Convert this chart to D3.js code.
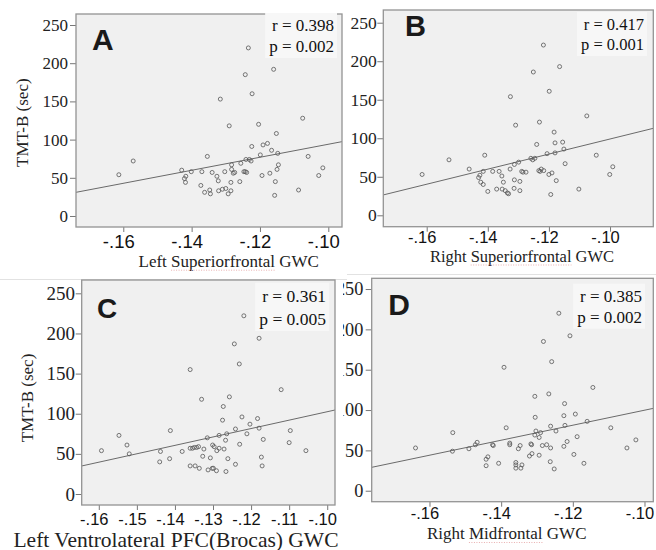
<!DOCTYPE html>
<html>
<head>
<meta charset="utf-8">
<script src="https://cdnjs.cloudflare.com/ajax/libs/d3/7.8.5/d3.min.js"></script>
<style>
body { margin: 0; background: #fff; }
</style>
</head>
<body>
<div id="chart"></div>
<script>
// chart values
var yTicks = [0, 50, 100, 150, 200, 250];
var xTicksWide = [-0.16, -0.14, -0.12, -0.10];
var xTicksFine = [-0.16, -0.15, -0.14, -0.13, -0.12, -0.11, -0.10];
var panelLetters = ['A', 'B', 'C', 'D'];
var xTitles = ['Left Superiorfrontal GWC', 'Right Superiorfrontal GWC', 'Left Ventrolateral PFC(Brocas) GWC', 'Right Midfrontal GWC'];
var yTitle = 'TMT-B (sec)';
var rTexts = ['r = 0.398', 'r = 0.417', 'r = 0.361', 'r = 0.385'];
var pTexts = ['p = 0.002', 'p = 0.001', 'p = 0.005', 'p = 0.002'];
var fitIntercepts = [179.1, 196.9, 207.3, 192.8];
var fitSlopes = [852, 978.5, 1048, 930];

var aX = [-.1613, -.1571, -.1234, -.1243, -.1160, -.1223, -.1316, -.1290, -.1204, -.1075, -.1152, -.1224, -.1191, -.1178, -.1166, -.1199, -.1148, -.1354, -.1059, -.1241,
	-.1231, -.1226, -.1256, -.1283, -.1146, -.1283, -.1150, -.1016, -.1028, -.1429, -.1401, -.1370, -.1340, -.1303, -.1278, -.1274, -.1243, -.1247, -.1239, -.1194,
	-.1171, -.1155, -.1157, -.1087, -.1417, -.1421, -.1418, -.1326, -.1322, -.1285, -.1259, -.1373, -.1362, -.1347, -.1345, -.1321, -.1310, -.1300, -.1293, -.1285];
var aY = [54, 72, 220, 185, 192, 160, 153, 118, 120, 128, 108, 91, 93, 95, 86, 80, 82, 78, 78, 74,
	74, 72, 69, 67, 67, 61, 61, 63, 53, 60, 58, 58, 57, 58, 56, 57, 58, 58, 57, 53,
	56, 45, 27, 34, 52, 49, 44, 52, 46, 44, 45, 40, 31, 34, 29, 33, 35, 36, 29, 33];

var bX = [-.1615, -.1527, -.1218, -.1251, -.1165, -.1199, -.1326, -.1309, -.1231, -.1076, -.1183, -.1240, -.1180, -.1155, -.1151, -.1206, -.1180, -.1045, -.1410, -.1259,
	-.1246, -.1253, -.1299, -.1313, -.1147, -.1461, -.1415, -.1384, -.1363, -.1327, -.1289, -.1285, -.1275, -.1233, -.1225, -.1217, -.1229, -.1200, -.1190, -.0991,
	-.1001, -.1426, -.1430, -.1354, -.1423, -.1415, -.1349, -.1313, -.1295, -.1176, -.1400, -.1371, -.1353, -.1343, -.1336, -.1332, -.1314, -.1295, -.1194, -.1102];
var bY = [53, 72, 221, 186, 193, 161, 154, 117, 121, 129, 108, 92, 94, 95, 86, 80, 81, 78, 78, 74,
	74, 72, 69, 66, 67, 60, 57, 57, 57, 60, 57, 56, 56, 58, 60, 58, 57, 53, 55, 63,
	53, 52, 49, 51, 43, 40, 43, 46, 44, 45, 31, 34, 34, 32, 29, 28, 35, 32, 27, 34];

var cX = [-.1593, -.1547, -.1526, -.1520, -.1438, -.1440, -.1412, -.1414, -.1381, -.1360, -.1330, -.1219, -.1244, -.1179, -.1231, -.1121, -.1257, -.1273, -.1097, -.1100,
	-.1056, -.1224, -.1183, -.1203, -.1275, -.1179, -.1241, -.1211, -.1264, -.1284, -.1315, -.1168, -.1267, -.1230, -.1360, -.1354, -.1349, -.1343, -.1338, -.1324,
	-.1301, -.1297, -.1284, -.1290, -.1271, -.1327, -.1307, -.1261, -.1173, -.1171, -.1241, -.1360, -.1347, -.1336, -.1313, -.1302, -.1299, -.1291, -.1266];
var cY = [54, 73, 61, 50, 53, 40, 79, 44, 53, 155, 118, 222, 187, 194, 162, 130, 121, 109, 79, 64,
	54, 96, 94, 87, 92, 82, 81, 75, 75, 73, 70, 68, 67, 62, 57, 57, 58, 58, 59, 56,
	61, 59, 57, 54, 56, 47, 45, 44, 46, 35, 37, 35, 35, 32, 30, 32, 32, 29, 28];

var dX = [-.1639, -.1535, -.1392, -.1239, -.1282, -.1208, -.1259, -.1144, -.1306, -.1267, -.1223, -.1094, -.1049, -.1024, -.1225, -.1193, -.1305, -.1160, -.1386, -.1262,
	-.1222, -.1303, -.1290, -.1306, -.1294, -.1247, -.1188, -.1216, -.1225, -.1273, -.1285, -.1262, -.1317, -.1315, -.1347, -.1352, -.1376, -.1376, -.1424, -.1422,
	-.1467, -.1472, -.1490, -.1536, -.1321, -.1314, -.1294, -.1197, -.1437, -.1442, -.1442, -.1407, -.1359, -.1359, -.1359, -.1342, -.1345, -.1263, -.1252, -.1169];
var dY = [53, 72, 153, 220, 185, 192, 160, 128, 117, 120, 108, 78, 53, 63, 93, 95, 91, 86, 78, 80,
	81, 74, 72, 69, 66, 74, 67, 61, 55, 57, 56, 53, 58, 57, 56, 52, 59, 57, 57, 56,
	60, 57, 52, 49, 43, 46, 44, 45, 42, 39, 31, 34, 35, 32, 28, 32, 28, 36, 27, 34];

var xData = [aX, bX, cX, dX];
var yData = [aY, bY, cY, dY];

// layout of the four panels (the source is four pasted screenshots of different scale)
var panels = [
	{ left: 76, right: 342, top: 14, bottom: 227, xDom: [-0.17384, -0.09599], yDom: [-14.4, 264.4], ticks: xTicksWide,
		letter: [92, 50, 30], stat: [334, 31, 52, 17], yLab: [68, 17], yTit: [28, 122.7], xLab: [248, 18.5], xTit: [228.7, 266.7, 17] },
	{ left: 383.3, right: 653.3, top: 10, bottom: 226.7, xDom: [-0.1742, -0.08584], yDom: [-14.8, 266.5], ticks: xTicksWide,
		letter: [405, 36, 29], stat: [644, 30, 50, 16.5], yLab: [376.7, 17.5], yTit: null, xLab: [243, 16.5], xTit: [522, 261.5, 16.5] },
	{ left: 81.7, right: 335, top: 280, bottom: 505, xDom: [-0.16449, -0.09796], yDom: [-13.7, 266.6], ticks: xTicksFine,
		letter: [97, 318.3, 28], stat: [326, 301.7, 325, 17.5], yLab: [75, 19], yTit: [33, 398], xLab: [524.5, 16.5], xTit: [176, 547, 21.5] },
	{ left: 371.7, right: 653.3, top: 278.3, bottom: 501.7, xDom: [-0.17613, -0.09754], yDom: [-13.6, 263.3], ticks: xTicksWide,
		letter: [388.3, 315, 30], stat: [642, 301.7, 322.7, 17], yLab: [363.3, 18.3], yTit: null, xLab: [519.5, 16.5], xTit: [506.7, 539, 17], clipX: 343 }
];

var serif = "'Liberation Serif', 'Times New Roman', serif";
var sans = "'Liberation Sans', Arial, sans-serif";

var svg = d3.select('#chart')
	.append('svg')
	.attr('width', 656)
	.attr('height', 550);

svg.append('rect').attr('width', 656).attr('height', 550).attr('fill', '#fff');

// faint seams between the pasted screenshots
svg.append('line').attr('x1', 0).attr('x2', 347).attr('y1', 279.5).attr('y2', 279.5).attr('stroke', '#e2e2e2');
svg.append('line').attr('x1', 347).attr('x2', 656).attr('y1', 274.5).attr('y2', 274.5).attr('stroke', '#e2e2e2');

var defs = svg.append('defs');

function fmtX(v) {
	return '-.' + d3.format('02d')(Math.round(Math.abs(v) * 100));
}

panels.forEach(function(p, i) {
	var g = svg.append('g');
	if (p.clipX) {
		defs.append('clipPath').attr('id', 'clip' + i)
			.append('rect').attr('x', p.clipX).attr('y', 275).attr('width', 656 - p.clipX).attr('height', 275);
		g.attr('clip-path', 'url(#clip' + i + ')');
	}

	var x = d3.scaleLinear().domain(p.xDom).range([p.left, p.right]);
	var y = d3.scaleLinear().domain(p.yDom).range([p.bottom, p.top]);

	// plot area
	g.append('rect')
		.attr('x', p.left).attr('y', p.top)
		.attr('width', p.right - p.left).attr('height', p.bottom - p.top)
		.attr('fill', '#f0f0f0');

	defs.append('clipPath').attr('id', 'plot' + i)
		.append('rect').attr('x', p.left).attr('y', p.top)
		.attr('width', p.right - p.left).attr('height', p.bottom - p.top);

	// y axis
	var yAxis = g.append('g')
		.attr('transform', 'translate(' + p.left + ',0)')
		.call(d3.axisLeft(y).tickValues(yTicks).tickSize(6).tickPadding(2).tickFormat(d3.format('d')));
	yAxis.select('.domain').remove();
	yAxis.selectAll('line').attr('stroke', '#777');
	yAxis.selectAll('text')
		.attr('x', p.yLab[0] - p.left)
		.attr('fill', '#222')
		.style('font-family', serif)
		.style('font-size', p.yLab[1] + 'px');

	// x axis
	var xAxis = g.append('g')
		.attr('transform', 'translate(0,' + p.bottom + ')')
		.call(d3.axisBottom(x).tickValues(p.ticks).tickSize(5).tickFormat(fmtX));
	xAxis.select('.domain').remove();
	xAxis.selectAll('line').attr('stroke', '#777');
	xAxis.selectAll('text')
		.attr('y', p.xLab[0] - p.bottom)
		.attr('dy', 0)
		.attr('dx', -5)
		.attr('fill', '#111')
		.style('font-family', sans)
		.style('font-size', p.xLab[1] + 'px');

	// fit line
	var line = d3.line().x(function(d) { return x(d); }).y(function(d) { return y(fitIntercepts[i] + fitSlopes[i] * d); });
	g.append('path')
		.attr('clip-path', 'url(#plot' + i + ')')
		.attr('d', line(p.xDom))
		.attr('fill', 'none')
		.attr('stroke', '#6a6a6a')
		.attr('stroke-width', 1);

	// points
	g.append('g').selectAll('circle')
		.data(xData[i].map(function(v, k) { return [v, yData[i][k]]; }))
		.enter().append('circle')
		.attr('cx', function(d) { return x(d[0]); })
		.attr('cy', function(d) { return y(d[1]); })
		.attr('r', 2)
		.attr('fill', 'none')
		.attr('stroke', '#555')
		.attr('stroke-width', 0.8);

	// frame
	g.append('rect')
		.attr('x', p.left).attr('y', p.top)
		.attr('width', p.right - p.left).attr('height', p.bottom - p.top)
		.attr('fill', 'none')
		.attr('stroke', '#939393')
		.attr('stroke-width', 1.3);

	// r and p box
	var stat = g.append('g');
	var box = stat.append('rect').attr('fill', '#f7f7f7');
	stat.append('text')
		.attr('x', p.stat[0]).attr('y', p.stat[1])
		.attr('text-anchor', 'end')
		.style('font-family', serif).style('font-size', p.stat[3] + 'px')
		.attr('fill', '#111')
		.text(rTexts[i]);
	stat.append('text')
		.attr('x', p.stat[0]).attr('y', p.stat[2])
		.attr('text-anchor', 'end')
		.style('font-family', serif).style('font-size', p.stat[3] + 'px')
		.attr('fill', '#111')
		.text(pTexts[i]);
	var bb = stat.node().getBBox();
	box.attr('x', bb.x - 4).attr('y', bb.y - 3).attr('width', bb.width + 7).attr('height', bb.height + 5);

	// panel letter
	g.append('text')
		.attr('x', p.letter[0]).attr('y', p.letter[1])
		.style('font-family', sans).style('font-weight', 'bold').style('font-size', p.letter[2] + 'px')
		.attr('fill', '#1a1a1a')
		.text(panelLetters[i]);

	// axis titles
	var xt = g.append('text')
		.attr('x', p.xTit[0]).attr('y', p.xTit[1])
		.attr('text-anchor', 'middle')
		.style('font-family', serif).style('font-size', p.xTit[2] + 'px')
		.attr('fill', '#222')
		.text(xTitles[i]);

	// faint dotted spell-check underline seen in the source screenshot
	var m = xTitles[i].match(/Superiorfrontal|Midfrontal/);
	if (m) {
		var node = xt.node();
		var u1 = node.getStartPositionOfChar(m.index).x;
		var u2 = node.getEndPositionOfChar(m.index + m[0].length - 1).x;
		g.append('line')
			.attr('x1', u1).attr('x2', u2)
			.attr('y1', p.xTit[1] + 3.5).attr('y2', p.xTit[1] + 3.5)
			.attr('stroke', '#e9b0b0')
			.attr('stroke-width', 1)
			.attr('stroke-dasharray', '1,1.5');
	}

	if (p.yTit) {
		g.append('text')
			.attr('transform', 'translate(' + p.yTit[0] + ',' + p.yTit[1] + ') rotate(-90)')
			.attr('text-anchor', 'middle')
			.style('font-family', serif).style('font-size', '17px')
			.attr('fill', '#222')
			.text(yTitle);
	}
});
</script>
</body>
</html>
